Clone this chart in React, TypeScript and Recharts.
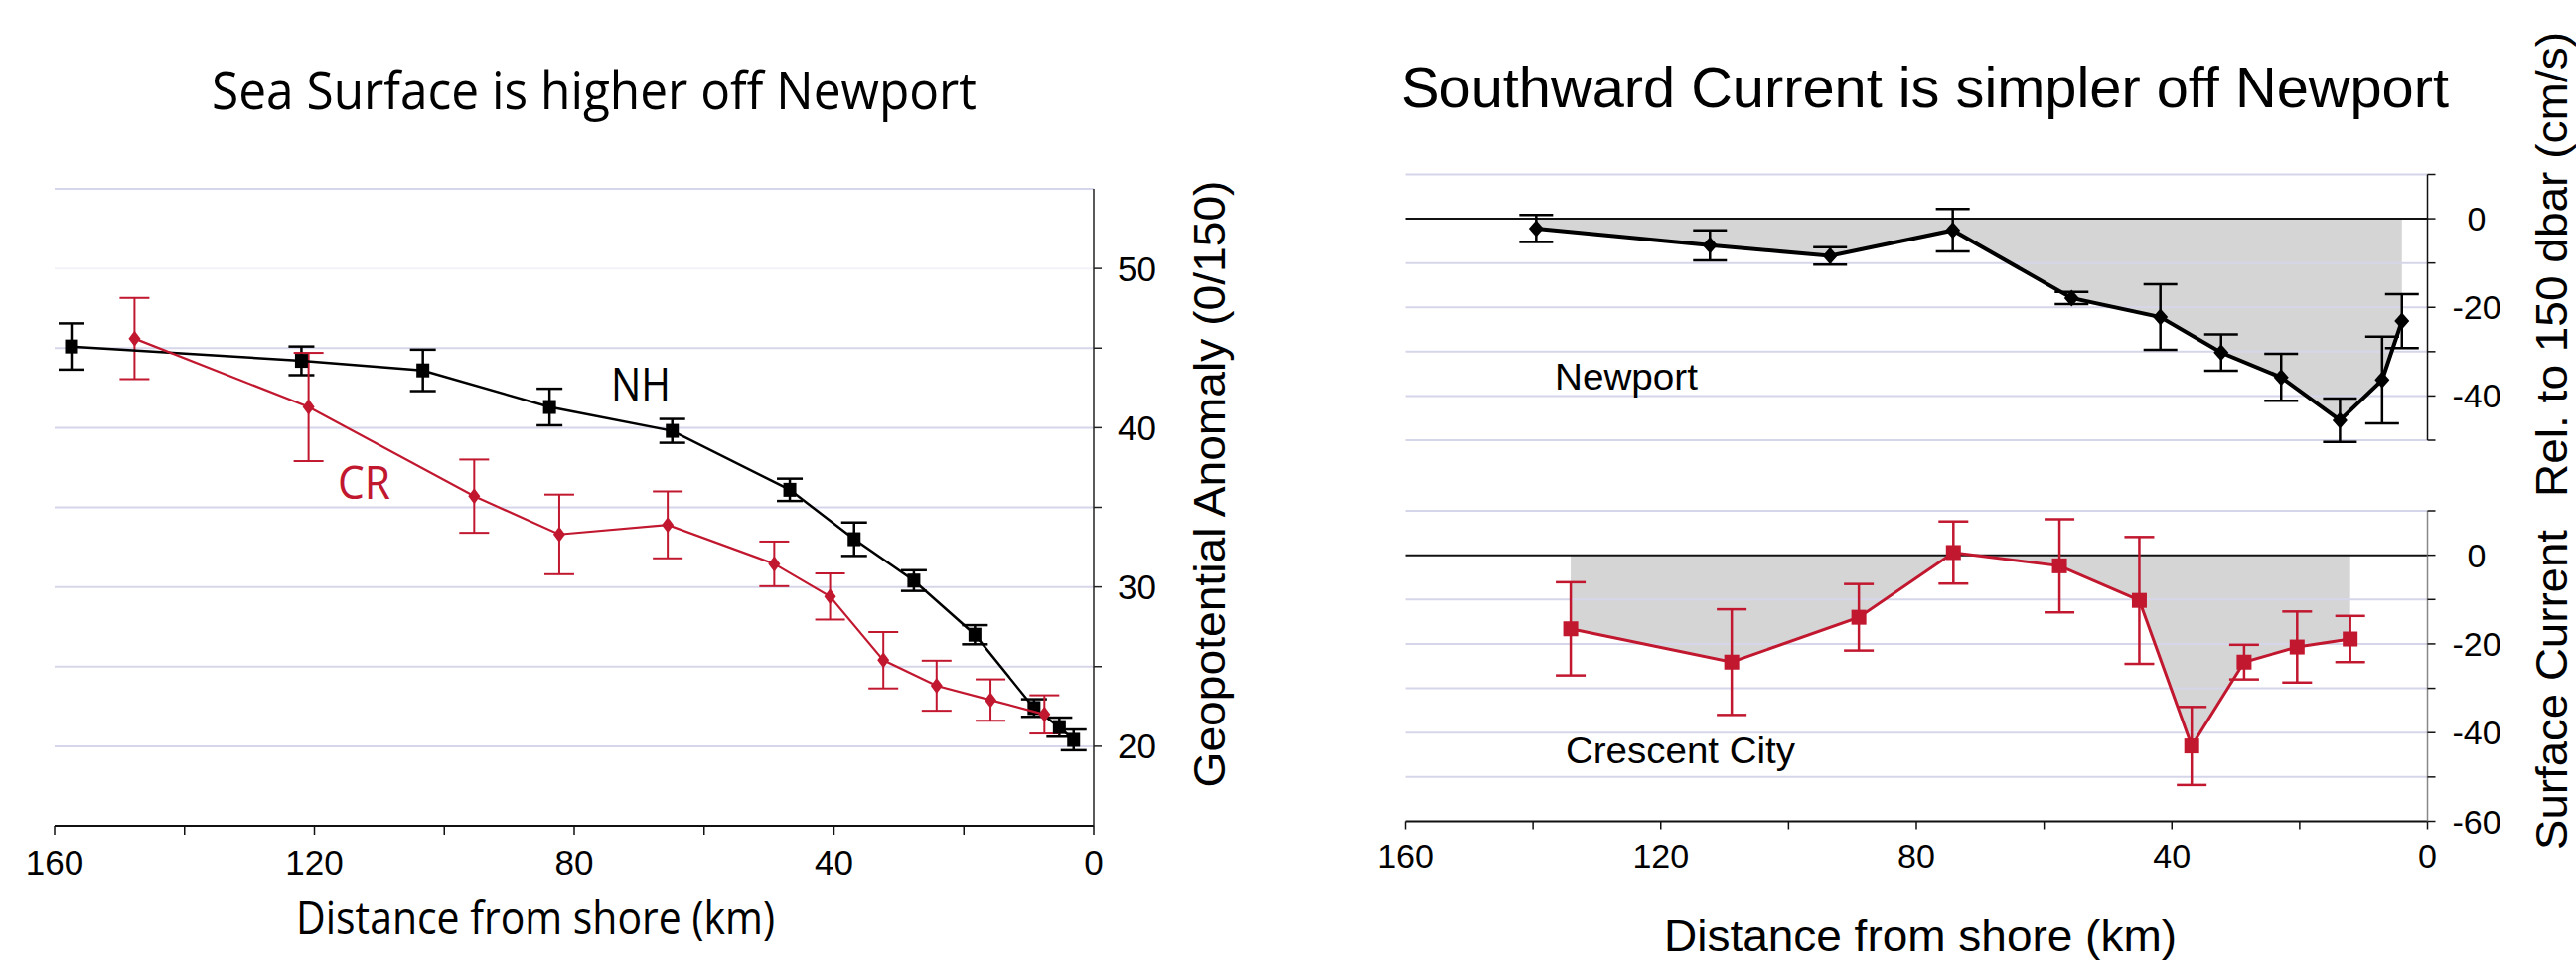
import React from 'react';
import { ComposedChart, Scatter, Area, XAxis, YAxis, ReferenceLine, ErrorBar } from 'recharts';

// ---------- data ----------
const kmTicks = [0, 20, 40, 60, 80, 100, 120, 140, 160];
const kmLabels = [0, 40, 80, 120, 160];

// Left: geopotential anomaly (0/150)
const distNH = [157.4, 122.0, 103.3, 83.8, 64.9, 46.8, 36.9, 27.7, 18.3, 9.2, 5.3, 3.1];
const geoNH = [45.1, 44.2, 43.6, 41.3, 39.8, 36.1, 33.0, 30.4, 27.0, 22.4, 21.2, 20.4];
const errNH = [1.45, 0.9, 1.3, 1.15, 0.75, 0.7, 1.05, 0.65, 0.6, 0.55, 0.6, 0.65];

const distCR = [147.7, 120.9, 95.4, 82.3, 65.6, 49.2, 40.6, 32.4, 24.2, 15.9, 7.6];
const geoCR = [45.6, 41.3, 35.7, 33.3, 33.9, 31.45, 29.4, 25.4, 23.8, 22.9, 22.0];
const errCR = [2.55, 3.4, 2.3, 2.5, 2.1, 1.4, 1.45, 1.77, 1.57, 1.3, 1.2];

const geoTicks = [20, 25, 30, 35, 40, 45, 50];
const geoLabels = [20, 30, 40, 50];
const geoGrid = [55, 45, 40, 35, 30, 25, 20];
const geoGridFaint = [50];

// Right top: Newport surface current
const distNewport = [139.5, 112.3, 93.5, 74.3, 55.7, 41.8, 32.3, 22.9, 13.7, 7.1, 4.0];
const curNewport = [-2.2, -6.0, -8.4, -2.6, -17.9, -22.2, -30.2, -35.8, -45.5, -36.4, -23.1];
const errNewport = [3.05, 3.4, 1.95, 4.8, 1.35, 7.4, 4.1, 5.3, 4.9, 9.8, 6.1];

// Right bottom: Crescent City surface current
const distCrescent = [134.1, 108.9, 89.0, 74.2, 57.6, 45.1, 36.9, 28.7, 20.4, 12.1];
const curCrescent = [-16.6, -24.1, -14.0, 0.6, -2.4, -10.2, -43.0, -24.1, -20.7, -18.9];
const errCrescent = [10.5, 11.9, 7.5, 7.0, 10.5, 14.3, 8.8, 3.9, 8.0, 5.2];

const topTicks = [10, 0, -10, -20, -30, -40, -50];
const bottomTicks = [10, 0, -10, -20, -30, -40, -50, -60];
const curLabels = [0, -20, -40, -60];
const curGrid = [10, -10, -20, -30, -40, -50];

// ---------- helpers ----------
const rows = (xs: number[], ys: number[], es: number[]) => xs.map((x, i) => ({ x, y: ys[i], e: es[i] }));

const RED = '#c1172f';
const GRID = '#d6d6ea';
const HELV = '"Liberation Sans", Arial, Helvetica, sans-serif';
const MYRIAD = '"Open Sans", "Noto Sans", sans-serif';

const squareShape = (w: number, h: number, fill: string) => (p: any) => (
  <rect x={p.cx - w / 2} y={p.cy - h / 2} width={w} height={h} fill={fill} />
);
const diamondShape = (w: number, h: number, fill: string) => (p: any) => (
  <polygon
    points={`${p.cx},${p.cy - h / 2} ${p.cx + w / 2},${p.cy} ${p.cx},${p.cy + h / 2} ${p.cx - w / 2},${p.cy}`}
    fill={fill}
  />
);

const centeredTick = (labels: number[]) => (p: any) => {
  const v = p.payload.value;
  if (!labels.includes(v)) return <g />;
  return (
    <text x={p.x} y={p.y} dy="0.355em" textAnchor="middle" fontFamily={HELV} fontSize={34} fill="#000">
      {v}
    </text>
  );
};

const kmFmt = (v: number) => (kmLabels.includes(v) ? String(v) : '');
const geoFmt = (v: number) => (geoLabels.includes(v) ? String(v) : '');

export default function App() {
  const nh = rows(distNH, geoNH, errNH);
  const cr = rows(distCR, geoCR, errCR);
  const np = rows(distNewport, curNewport, errNewport);
  const cc = rows(distCrescent, curCrescent, errCrescent);

  return (
    <div style={{ position: 'absolute', left: 0, top: 0, width: 2593, height: 968, background: '#fff', overflow: 'hidden' }}>
      {/* Left chart */}
      <div style={{ position: 'absolute', left: 0, top: 0 }}>
        <ComposedChart width={1185} height={900} margin={{ top: 190, right: 0, bottom: 0, left: 55 }}>
          <XAxis
            type="number"
            dataKey="x"
            domain={[0, 160]}
            reversed
            ticks={kmTicks}
            tickFormatter={kmFmt}
            allowDataOverflow
            height={69}
            tickSize={9}
            tickMargin={15}
            axisLine={{ stroke: '#111', strokeWidth: 2 }}
            tickLine={{ stroke: '#111', strokeWidth: 1.5 }}
            tick={{ fontFamily: HELV, fontSize: 35, fill: '#000' }}
            interval={0}
          />
          <YAxis
            type="number"
            dataKey="y"
            orientation="right"
            domain={[15, 55]}
            allowDataOverflow
            ticks={geoTicks}
            tickFormatter={geoFmt}
            width={84}
            tickSize={8}
            tickMargin={16}
            axisLine={{ stroke: '#222', strokeWidth: 1.5 }}
            tickLine={{ stroke: '#222', strokeWidth: 1.5 }}
            tick={{ fontFamily: HELV, fontSize: 35, fill: '#000' }}
            interval={0}
          />
          {geoGrid.map((g) => (
            <ReferenceLine key={'g' + g} y={g} stroke={GRID} strokeWidth={2} />
          ))}
          {geoGridFaint.map((g) => (
            <ReferenceLine key={'f' + g} y={g} stroke="#f2f2f8" strokeWidth={2} />
          ))}
          <Scatter
            data={nh}
            fill="#000"
            line={{ stroke: '#000', strokeWidth: 2.5 }}
            shape={squareShape(13, 14, '#000')}
            isAnimationActive={false}
          >
            <ErrorBar dataKey="e" direction="y" width={13} stroke="#000" strokeWidth={2.5} />
          </Scatter>
          <Scatter
            data={cr}
            fill={RED}
            line={{ stroke: RED, strokeWidth: 2.2 }}
            shape={diamondShape(12, 16, RED)}
            isAnimationActive={false}
          >
            <ErrorBar dataKey="e" direction="y" width={15} stroke={RED} strokeWidth={2} />
          </Scatter>
        </ComposedChart>
      </div>

      {/* Right top chart: Newport */}
      <div style={{ position: 'absolute', left: 1350, top: 100 }}>
        <ComposedChart width={1180} height={400} margin={{ top: 75.5, right: 0, bottom: 57, left: 64.5 }}>
          <XAxis type="number" dataKey="x" domain={[0, 160]} reversed allowDataOverflow hide />
          <YAxis
            type="number"
            dataKey="y"
            orientation="right"
            domain={[-50, 10]}
            allowDataOverflow
            ticks={topTicks}
            width={86.5}
            tickSize={8}
            tickMargin={41.5}
            axisLine={{ stroke: '#111', strokeWidth: 1.5 }}
            tickLine={{ stroke: '#111', strokeWidth: 1.5 }}
            tick={centeredTick(curLabels)}
            interval={0}
          />
          <Area
            data={np}
            dataKey="y"
            type="linear"
            baseValue={0}
            stroke="none"
            fill="#d5d5d5"
            fillOpacity={1}
            isAnimationActive={false}
          />
          {curGrid.map((g) => (
            <ReferenceLine key={'t' + g} y={g} stroke={GRID} strokeWidth={2} />
          ))}
          <ReferenceLine y={0} stroke="#111" strokeWidth={2} />
          <Scatter
            data={np}
            fill="#000"
            line={{ stroke: '#000', strokeWidth: 4 }}
            shape={diamondShape(15, 17, '#000')}
            isAnimationActive={false}
          >
            <ErrorBar dataKey="e" direction="y" width={17} stroke="#000" strokeWidth={2.5} />
          </Scatter>
        </ComposedChart>
      </div>

      {/* Right bottom chart: Crescent City */}
      <div style={{ position: 'absolute', left: 1350, top: 480 }}>
        <ComposedChart width={1180} height={406.5} margin={{ top: 34, right: 0, bottom: 0, left: 64.5 }}>
          <XAxis
            type="number"
            dataKey="x"
            domain={[0, 160]}
            reversed
            ticks={kmTicks}
            tickFormatter={kmFmt}
            allowDataOverflow
            height={60}
            tickSize={8}
            tickMargin={14.5}
            axisLine={{ stroke: '#111', strokeWidth: 2 }}
            tickLine={{ stroke: '#111', strokeWidth: 1.5 }}
            tick={{ fontFamily: HELV, fontSize: 34, fill: '#000' }}
            interval={0}
          />
          <YAxis
            type="number"
            dataKey="y"
            orientation="right"
            domain={[-60, 10]}
            allowDataOverflow
            ticks={bottomTicks}
            width={86.5}
            tickSize={8}
            tickMargin={41.5}
            axisLine={{ stroke: '#888', strokeWidth: 1.5 }}
            tickLine={{ stroke: '#111', strokeWidth: 1.5 }}
            tick={centeredTick(curLabels)}
            interval={0}
          />
          <Area
            data={cc}
            dataKey="y"
            type="linear"
            baseValue={0}
            stroke="none"
            fill="#d5d5d5"
            fillOpacity={1}
            isAnimationActive={false}
          />
          {curGrid.map((g) => (
            <ReferenceLine key={'b' + g} y={g} stroke={GRID} strokeWidth={2} />
          ))}
          <ReferenceLine y={0} stroke="#111" strokeWidth={2} />
          <Scatter
            data={cc}
            fill={RED}
            line={{ stroke: RED, strokeWidth: 3 }}
            shape={squareShape(15, 15, RED)}
            isAnimationActive={false}
          >
            <ErrorBar dataKey="e" direction="y" width={15} stroke={RED} strokeWidth={2.5} />
          </Scatter>
        </ComposedChart>
      </div>

      {/* Text overlay */}
      <svg width={2593} height={968} style={{ position: 'absolute', left: 0, top: 0, pointerEvents: 'none' }}>
        <text x={213} y={110} fontFamily={MYRIAD} fontSize={53} fill="#000" textLength={770} lengthAdjust="spacingAndGlyphs">
          Sea Surface is higher off Newport
        </text>
        <text x={298} y={940} fontFamily={MYRIAD} fontSize={45} fill="#000" textLength={482} lengthAdjust="spacingAndGlyphs">
          Distance from shore (km)
        </text>
        <text x={615} y={403} fontFamily={MYRIAD} fontSize={45} fill="#000" textLength={60} lengthAdjust="spacingAndGlyphs">
          NH
        </text>
        <text x={340} y={502} fontFamily={MYRIAD} fontSize={45} fill={RED} textLength={53} lengthAdjust="spacingAndGlyphs">
          CR
        </text>
        <text
          x={1233}
          y={487}
          transform="rotate(-90, 1233, 487)"
          textAnchor="middle"
          fontFamily={HELV}
          fontSize={45}
          fill="#000"
          textLength={611}
          lengthAdjust="spacingAndGlyphs"
        >
          Geopotential Anomaly (0/150)
        </text>

        <text x={1410} y={108} fontFamily={HELV} fontSize={58} fill="#000" textLength={1055} lengthAdjust="spacingAndGlyphs">
          Southward Current is simpler off Newport
        </text>
        <text x={1675} y={957} fontFamily={HELV} fontSize={44} fill="#000" textLength={516} lengthAdjust="spacingAndGlyphs">
          Distance from shore (km)
        </text>
        <text x={1565} y={392} fontFamily={HELV} fontSize={37} fill="#000" textLength={144} lengthAdjust="spacingAndGlyphs">
          Newport
        </text>
        <text x={1576} y={768} fontFamily={HELV} fontSize={37} fill="#000" textLength={231} lengthAdjust="spacingAndGlyphs">
          Crescent City
        </text>
        <text x={2584} y={855} transform="rotate(-90, 2584, 855)" fontFamily={HELV} fontSize={45} fill="#000" textLength={322} lengthAdjust="spacingAndGlyphs">
          Surface Current
        </text>
        <text x={2584} y={500} transform="rotate(-90, 2584, 500)" fontFamily={HELV} fontSize={45} fill="#000" textLength={468} lengthAdjust="spacingAndGlyphs">
          Rel. to 150 dbar (cm/s)
        </text>
      </svg>
    </div>
  );
}
